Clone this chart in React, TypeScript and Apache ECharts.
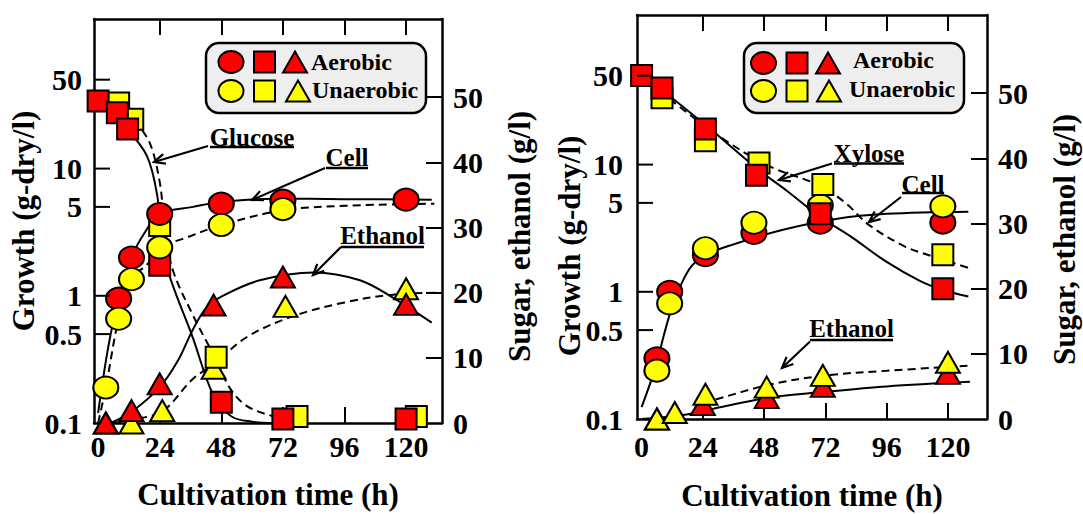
import React, { useEffect, useRef } from "react";
import * as echarts from "echarts";

const FONT = "'Liberation Serif', 'DejaVu Serif', 'Times New Roman', serif";
const RED = "#ff0000";
const YELLOW = "#ffff00";

// ---------- tick values ----------
const timeTicks = [0, 24, 48, 72, 96, 120];
const timeInnerTicks = [24, 48, 72, 96, 120];
const growthTicks = [0.1, 0.5, 1, 5, 10, 50];
const growthInnerTicks = [0.5, 1, 5, 10, 50];
const sugarTicks = [0, 10, 20, 30, 40, 50];
const sugarInnerTicks = [10, 20, 30, 40, 50];

// ---------- left panel (glucose) : measured points [time h, value] ----------
const gluCellAero = [[8, 0.95], [13, 2.0], [24, 4.4], [48, 5.3], [72, 5.6], [120, 5.7]];
const gluCellAnaero = [[3, 0.19], [8, 0.66], [13, 1.35], [24, 2.4], [48, 3.6], [72, 4.8]];
const gluSugarAero = [[0, 49.4], [7.5, 47.6], [11.5, 45.1], [24, 24.2], [48, 3.2], [72, 0.6], [120, 0.6]];
const gluSugarAnaero = [[8, 49.1], [13.5, 46.6], [24, 30.3], [46, 10.1], [77.5, 1.0], [124, 1.0]];
const gluEthAero = [[3, 0], [13, 1.9], [24, 6.0], [45, 18.1], [72, 22.4], [120, 18.2]];
const gluEthAnaero = [[3, 0], [13, 0], [25, 1.9], [45, 8.4], [73, 17.9], [120, 20.6]];

// fitted curves
const gluCellAeroFit = [[0, 0.12], [4, 0.4], [8, 0.95], [13, 2.0], [18, 3.1], [24, 4.4], [37, 5.0], [49, 5.5], [69, 5.8], [96, 5.75], [130, 5.7]];
const gluCellAnaeroFit = [[0, 0.1], [3, 0.19], [8, 0.66], [13, 1.35], [19.5, 1.8], [24, 2.4], [33, 2.8], [48, 3.6], [72, 4.7], [96, 5.1], [131, 5.3]];
const gluSugarAeroFit = [[11, 45.2], [19, 41.0], [23, 35.0], [26, 25.0], [37, 13.0], [45, 4.2], [52, 1.0], [60, 0.2], [68.5, 0]];
const gluSugarAnaeroFit = [[14, 46.5], [20, 43.1], [24, 37.0], [26, 30.0], [29, 23.6], [37, 16.5], [45.5, 10.1], [51.6, 5.2], [58, 2.6], [68.5, 1.0], [76, 0.5]];
const gluEthAeroFit = [[5, 0], [13, 1.7], [24, 5.5], [31, 9.5], [37, 14.4], [42, 17.6], [48, 19.4], [63, 21.9], [84, 23.1], [102, 21.9], [115, 19.2], [130, 15.4]];
const gluEthAnaeroFit = [[6, 0], [13, 0.5], [25, 1.8], [37, 6.8], [45, 9.0], [58, 13.2], [76, 16.4], [96, 18.5], [115, 19.7], [133, 20.0]];

// ---------- right panel (xylose) ----------
const xylCellAero = [[6, 0.3], [11, 1.0], [25, 1.94], [44, 2.9], [70, 3.49], [118, 3.5]];
const xylCellAnaero = [[6, 0.24], [11, 0.81], [25, 2.2], [44, 3.49], [70, 4.77], [118, 4.7]];
const xylSugarAero = [[0, 52.7], [8, 50.8], [25, 44.5], [45, 37.4], [70, 31.5], [118, 20.0]];
const xylSugarAnaero = [[8, 49.3], [25, 42.7], [46, 39.3], [71, 36.0], [118, 25.2]];
const xylEthAero = [[6, 0], [24, 2.2], [49, 3.3], [71, 5.0], [120, 7.0]];
const xylEthAnaero = [[6, 0], [13, 1.0], [25, 3.8], [49, 4.9], [71, 6.7], [120, 8.7]];

const xylCellFit = [[0, 0.124], [5, 0.24], [11.7, 0.73], [18.5, 1.49], [25, 1.94], [36, 2.36], [55, 3.06], [75.5, 3.72], [96, 4.1], [128, 4.26]];
const xylSugarAeroFit = [[8, 50.5], [26, 44.8], [45, 38.5], [57, 35.0], [70, 31.0], [82, 28.0], [96, 24.1], [109, 21.2], [118, 19.8], [128, 18.8]];
const xylSugarAnaeroFit = [[11, 49.1], [30, 43.5], [50, 38.8], [70, 35.8], [80, 33.1], [89, 29.8], [103, 26.5], [112, 25.2], [128, 23.2]];
const xylEthAeroFit = [[0, 0], [17.6, 0.7], [30.7, 1.8], [50.3, 3.3], [70, 4.1], [96, 5.0], [128.6, 5.7]];
const xylEthAnaeroFit = [[24, 2.6], [28, 2.9], [50.3, 5.3], [72.5, 6.7], [96, 7.4], [128.6, 8.2]];

// ---------- layout ----------
const panels = [
  { left: 94, top: 19, width: 348, height: 404, xMin: -1.6, xMax: 134, xLabelMargin: 8, xNameGap: 56,
    growthGap: 55, growthPad: 0, sugarGap: 62, sugarPad: 31 },
  { left: 637, top: 15, width: 350, height: 404, xMin: -1.8, xMax: 135.3, xLabelMargin: 12, xNameGap: 61,
    growthGap: 52, growthPad: 58, sugarGap: 62, sugarPad: 45 },
];

const axisLineStyle = { color: "#000", width: 2.5 };
const tickStyle = { color: "#000", width: 2 };
const labelText = { color: "#000", fontFamily: FONT, fontWeight: "bold" as const, fontSize: 30 };
const nameText = { color: "#000", fontFamily: FONT, fontWeight: "bold" as const, fontSize: 31 };

function scatter(data: number[][], symbol: string, size: number[], color: string, xi: number, yi: number) {
  return {
    type: "scatter", xAxisIndex: xi, yAxisIndex: yi, data, symbol, symbolSize: size,
    itemStyle: { color, borderColor: "#000", borderWidth: 2, opacity: 1 },
    silent: true, z: 3,
  };
}
function curve(data: number[][], dashed: boolean, xi: number, yi: number) {
  return {
    type: "line", xAxisIndex: xi, yAxisIndex: yi, data, smooth: 0.35,
    symbol: "none", showSymbol: false, silent: true, z: 2,
    lineStyle: { color: "#000", width: 2, type: dashed ? [8, 5] : "solid" },
  };
}

const CIRC = [25, 22];
const SQ = [21, 21];
const TRI = [24, 21];

function buildOption() {
  const grid: any[] = [];
  const xAxis: any[] = [];
  const yAxis: any[] = [];
  panels.forEach((p, i) => {
    grid.push({ left: p.left, top: p.top, width: p.width, height: p.height, containLabel: false, outerBoundsMode: "none" });
    const xCommon = {
      type: "value", gridIndex: i, min: p.xMin, max: p.xMax, splitLine: { show: false },
      axisLine: { show: true, onZero: false, lineStyle: axisLineStyle },
      axisTick: { show: true, inside: true, length: 16, lineStyle: tickStyle, customValues: timeInnerTicks },
    };
    xAxis.push({
      ...xCommon, position: "bottom",
      axisLabel: { show: true, margin: p.xLabelMargin, customValues: timeTicks, ...labelText },
      name: "Cultivation time (h)", nameLocation: "middle", nameGap: p.xNameGap, nameTextStyle: nameText,
      nameMoveOverlap: false,
    });
    xAxis.push({ ...xCommon, position: "top", axisLabel: { show: false } });
    yAxis.push({
      type: "log", logBase: 10, gridIndex: i, position: "left", min: 0.1, max: 150,
      axisLine: { show: true, onZero: false, lineStyle: axisLineStyle },
      axisTick: { show: false }, minorTick: { show: false }, axisLabel: { show: false },
      splitLine: { show: false }, minorSplitLine: { show: false },
      name: "Growth (g-dry/l)", nameLocation: "middle", nameRotate: 90, nameGap: p.growthGap,
      nameTextStyle: { ...nameText, padding: [0, p.growthPad, 0, 0] }, nameMoveOverlap: false,
    });
    yAxis.push({
      type: "value", gridIndex: i, position: "right", min: 0, max: 62,
      axisLine: { show: true, onZero: false, lineStyle: axisLineStyle },
      axisTick: { show: true, inside: true, length: 16, lineStyle: tickStyle, customValues: sugarInnerTicks },
      axisLabel: { show: true, margin: 11, customValues: sugarTicks, ...labelText },
      splitLine: { show: false },
      name: "Sugar, ethanol (g/l)", nameLocation: "middle", nameRotate: 90, nameGap: p.sugarGap,
      nameTextStyle: { ...nameText, padding: [0, p.sugarPad, 0, 0] }, nameMoveOverlap: false,
    });
  });

  const series: any[] = [
    curve(gluCellAeroFit, false, 0, 0),
    curve(gluCellAnaeroFit, true, 0, 0),
    curve(gluSugarAeroFit, false, 0, 1),
    curve(gluSugarAnaeroFit, true, 0, 1),
    curve(gluEthAeroFit, false, 0, 1),
    curve(gluEthAnaeroFit, true, 0, 1),
    scatter(gluEthAnaero, "triangle", TRI, YELLOW, 0, 1),
    scatter(gluEthAero, "triangle", TRI, RED, 0, 1),
    scatter(gluSugarAnaero, "rect", SQ, YELLOW, 0, 1),
    scatter(gluSugarAero, "rect", SQ, RED, 0, 1),
    scatter(gluCellAero, "circle", CIRC, RED, 0, 0),
    scatter(gluCellAnaero, "circle", CIRC, YELLOW, 0, 0),
    curve(xylCellFit, false, 2, 2),
    curve(xylSugarAeroFit, false, 2, 3),
    curve(xylSugarAnaeroFit, true, 2, 3),
    curve(xylEthAeroFit, false, 2, 3),
    curve(xylEthAnaeroFit, true, 2, 3),
    scatter(xylCellAero, "circle", CIRC, RED, 2, 2),
    scatter(xylCellAnaero, "circle", CIRC, YELLOW, 2, 2),
    scatter(xylSugarAnaero, "rect", SQ, YELLOW, 2, 3),
    scatter(xylSugarAero, "rect", SQ, RED, 2, 3),
    scatter(xylEthAero, "triangle", TRI, RED, 2, 3),
    scatter(xylEthAnaero, "triangle", TRI, YELLOW, 2, 3),
  ];

  return {
    animation: false, backgroundColor: "#fff",
    textStyle: { fontFamily: FONT, fontWeight: "bold" },
    grid, xAxis, yAxis, series,
  };
}

// ---------- decorations ----------
function arrow(x1: number, y1: number, x2: number, y2: number) {
  const a = Math.atan2(y2 - y1, x2 - x1);
  const L = 12;
  const th = 0.42;
  return [
    { type: "line", z: 100, shape: { x1, y1, x2, y2 }, style: { stroke: "#000", lineWidth: 2.2 } },
    {
      type: "polyline", z: 100,
      shape: { points: [[x2 - L * Math.cos(a - th), y2 - L * Math.sin(a - th)], [x2, y2], [x2 - L * Math.cos(a + th), y2 - L * Math.sin(a + th)]] },
      style: { stroke: "#000", lineWidth: 2.2, fill: null },
    },
  ];
}
function note(text: string, x1: number, x2: number, cy: number, uy: number) {
  return [
    { type: "text", z: 100, x: (x1 + x2) / 2, y: cy, style: { text, font: `bold 25px ${FONT}`, fill: "#000", align: "center", verticalAlign: "middle" } },
    { type: "line", z: 100, shape: { x1, y1: uy, x2, y2: uy }, style: { stroke: "#000", lineWidth: 2.5 } },
  ];
}
function tri(cx: number, cy: number, fill: string) {
  return { type: "polygon", z: 101, shape: { points: [[cx, cy - 10.5], [cx + 12, cy + 10.5], [cx - 12, cy + 10.5]] }, style: { fill, stroke: "#000", lineWidth: 2 } };
}
function circ(cx: number, cy: number, fill: string) {
  return { type: "ellipse", z: 101, shape: { cx, cy, rx: 12.5, ry: 11 }, style: { fill, stroke: "#000", lineWidth: 2 } };
}
function sq(cx: number, cy: number, fill: string) {
  return { type: "rect", z: 101, shape: { x: cx - 10.5, y: cy - 10.5, width: 21, height: 21 }, style: { fill, stroke: "#000", lineWidth: 2 } };
}
function legendBox(x: number, y: number, w: number, h: number, r1: number[], r2: number[], t1: number[], t2: number[]) {
  const ts = { font: `bold 24px ${FONT}`, fill: "#000", align: "left", verticalAlign: "middle" };
  return [
    { type: "rect", z: 100, shape: { x, y, width: w, height: h, r: 13 }, style: { fill: "#eeeeee", stroke: "#000", lineWidth: 2.5 } },
    circ(r1[0], r1[3], RED), sq(r1[1], r1[3], RED), tri(r1[2], r1[3], RED),
    circ(r2[0], r2[3], YELLOW), sq(r2[1], r2[3], YELLOW), tri(r2[2], r2[3], YELLOW),
    { type: "text", z: 101, x: t1[0], y: t1[1], style: { ...ts, text: "Aerobic" } },
    { type: "text", z: 101, x: t2[0], y: t2[1], style: { ...ts, text: "Unaerobic" } },
  ];
}

function staticGraphics() {
  return [
    ...legendBox(206, 43, 220, 70, [231, 264.5, 295, 62], [231, 264.5, 298, 91], [311, 62], [312, 90]),
    ...legendBox(744, 43, 220, 70, [763.5, 797, 828, 63], [763.5, 797, 829, 91], [853, 60], [849, 89]),
    ...note("Glucose", 210, 294, 137, 147), ...arrow(208, 146, 154, 162),
    ...note("Cell", 326, 368, 157, 168), ...arrow(325, 168, 252, 200),
    ...note("Ethanol", 341, 424, 235, 247), ...arrow(341, 247, 313, 275),
    ...note("Xylose", 834, 904, 153, 163.5), ...arrow(832, 163.5, 779, 180),
    ...note("Cell", 902, 944, 184, 193), ...arrow(901, 197, 869, 222),
    ...note("Ethanol", 810, 893, 328, 340), ...arrow(810, 341.5, 782, 368),
  ];
}

export default function App() {
  const ref = useRef<HTMLDivElement>(null);
  useEffect(() => {
    const chart = echarts.init(ref.current as HTMLDivElement, null, { renderer: "svg" });
    chart.setOption(buildOption() as any);
    const g: any[] = [];
    panels.forEach((p, i) => {
      const yi = i * 2;
      growthTicks.forEach((v) => {
        const y = chart.convertToPixel({ yAxisIndex: yi } as any, v) as unknown as number;
        if (growthInnerTicks.includes(v)) {
          g.push({ type: "line", z: 50, shape: { x1: p.left, y1: y, x2: p.left + 16, y2: y }, style: { stroke: "#000", lineWidth: 2 } });
        }
        g.push({
          type: "text", z: 50, x: p.left - (i === 0 ? 12 : 14), y,
          style: { text: String(v), font: `bold 30px ${FONT}`, fill: "#000", align: "right", verticalAlign: "middle" },
        });
      });
    });
    chart.setOption({ graphic: [...g, ...staticGraphics()] } as any);
    return () => chart.dispose();
  }, []);
  return <div ref={ref} style={{ position: "absolute", left: 0, top: 0, width: 1083, height: 514, background: "#fff" }} />;
}
